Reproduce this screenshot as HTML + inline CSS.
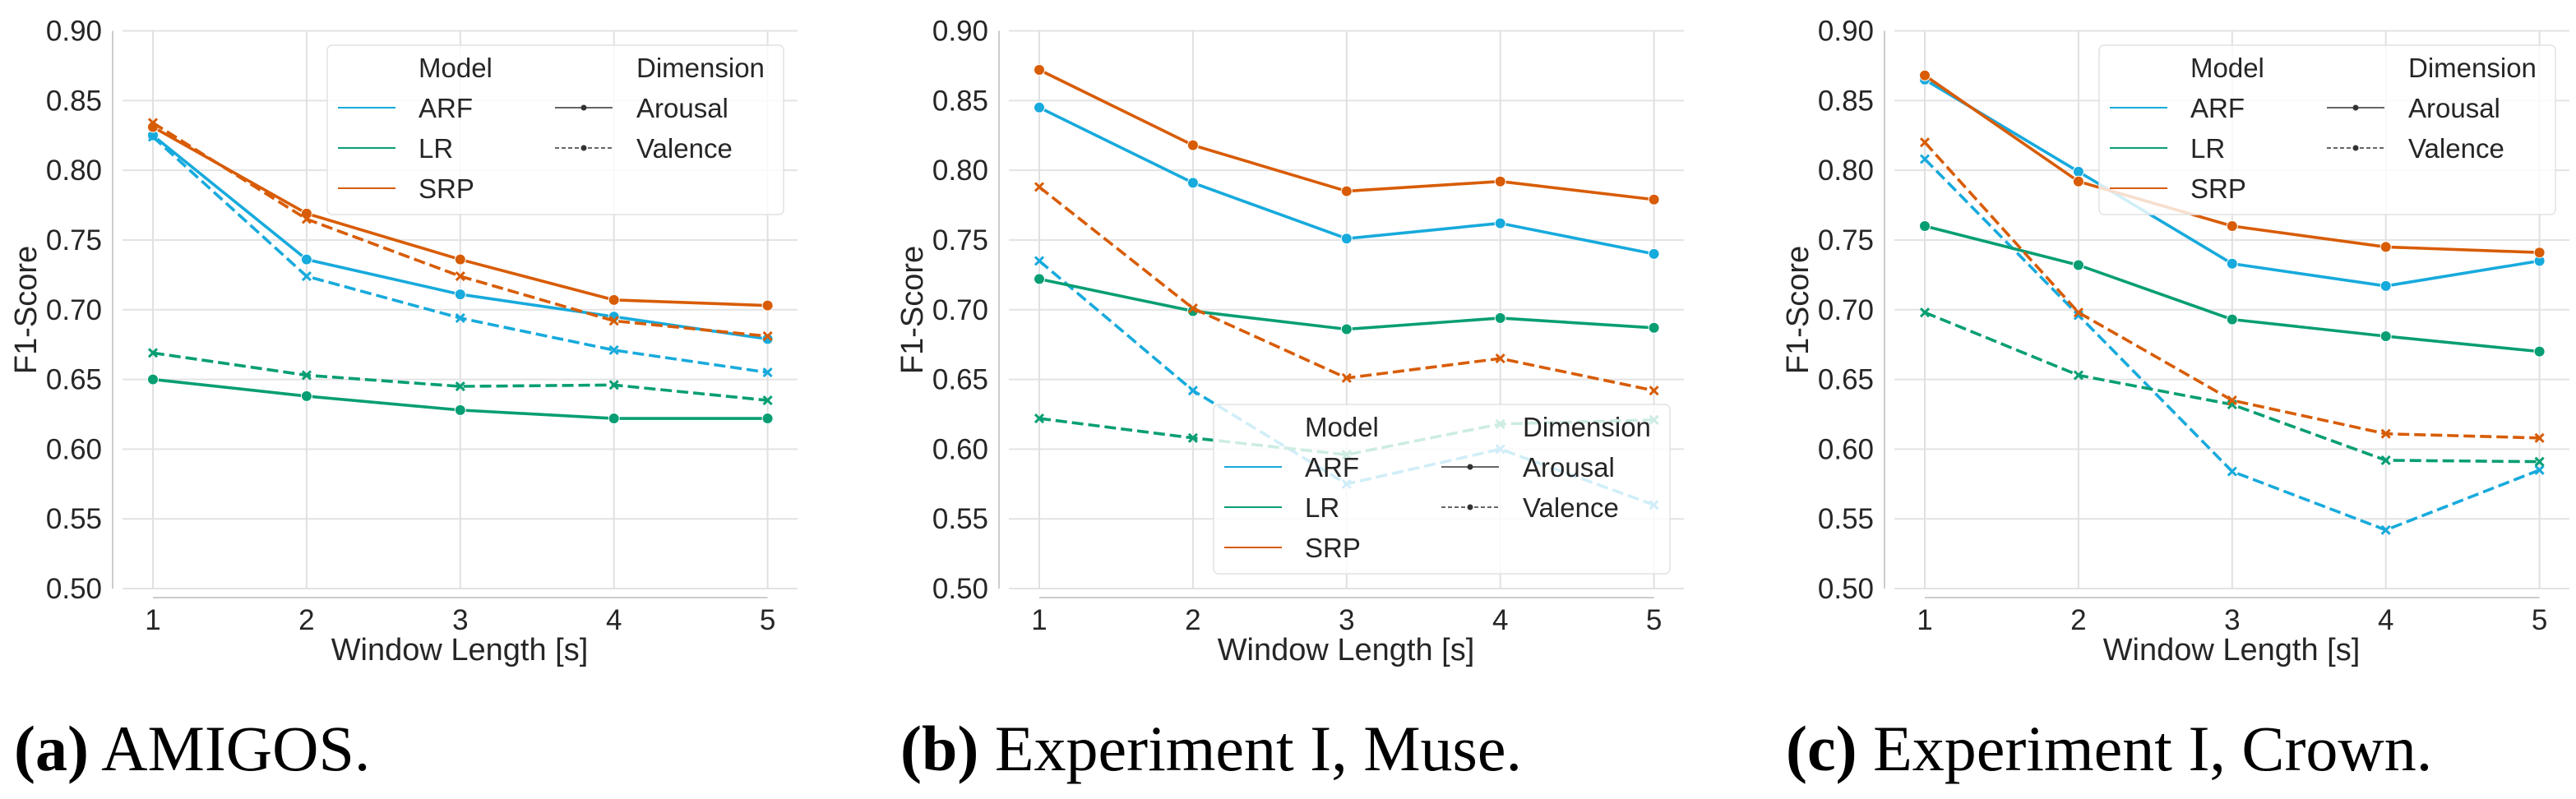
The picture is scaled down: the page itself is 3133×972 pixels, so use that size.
<!DOCTYPE html>
<html><head><meta charset="utf-8"><style>
html,body{margin:0;padding:0;background:#fff;}
svg{display:block;}
</style></head><body>
<svg id="fig" width="3133" height="972" viewBox="0 0 3133 972" xmlns="http://www.w3.org/2000/svg" font-family="Liberation Sans, sans-serif"></svg>
<script>
const xCats = [1, 2, 3, 4, 5];
const yTicks = [0.50, 0.55, 0.60, 0.65, 0.70, 0.75, 0.80, 0.85, 0.90];
const yTickLabels = ["0.50","0.55","0.60","0.65","0.70","0.75","0.80","0.85","0.90"];
const models = ["ARF", "LR", "SRP"];
const captions = ["AMIGOS.", "Experiment I, Muse.", "Experiment I, Crown."];
const captionTags = ["(a)", "(b)", "(c)"];
// panel a
const aArfArousal = [0.825, 0.736, 0.711, 0.695, 0.679];
const aArfValence = [0.824, 0.724, 0.694, 0.671, 0.655];
const aLrArousal  = [0.650, 0.638, 0.628, 0.622, 0.622];
const aLrValence  = [0.669, 0.653, 0.645, 0.646, 0.635];
const aSrpArousal = [0.831, 0.769, 0.736, 0.707, 0.703];
const aSrpValence = [0.834, 0.765, 0.724, 0.692, 0.681];
// panel b
const bArfArousal = [0.845, 0.791, 0.751, 0.762, 0.740];
const bArfValence = [0.735, 0.642, 0.575, 0.600, 0.560];
const bLrArousal  = [0.722, 0.699, 0.686, 0.694, 0.687];
const bLrValence  = [0.622, 0.608, 0.596, 0.618, 0.621];
const bSrpArousal = [0.872, 0.818, 0.785, 0.792, 0.779];
const bSrpValence = [0.788, 0.701, 0.651, 0.665, 0.642];
// panel c
const cArfArousal = [0.865, 0.799, 0.733, 0.717, 0.735];
const cArfValence = [0.808, 0.696, 0.584, 0.542, 0.585];
const cLrArousal  = [0.760, 0.732, 0.693, 0.681, 0.670];
const cLrValence  = [0.698, 0.653, 0.632, 0.592, 0.591];
const cSrpArousal = [0.868, 0.792, 0.760, 0.745, 0.741];
const cSrpValence = [0.820, 0.698, 0.635, 0.611, 0.608];

const colors = {ARF:"#17aadc", LR:"#079e73", SRP:"#d85c05"};
const panels = [
  {tick1:186, legendY:55, series:[["ARF",aArfArousal,aArfValence],["LR",aLrArousal,aLrValence],["SRP",aSrpArousal,aSrpValence]]},
  {tick1:1264, legendY:492, series:[["ARF",bArfArousal,bArfValence],["LR",bLrArousal,bLrValence],["SRP",bSrpArousal,bSrpValence]]},
  {tick1:2341, legendY:55, series:[["ARF",cArfArousal,cArfValence],["LR",cLrArousal,cLrValence],["SRP",cSrpArousal,cSrpValence]]}
];
const NS = "http://www.w3.org/2000/svg";
const svg = document.getElementById('fig');
function mk(tag, attrs, parent, text){
  const e = document.createElementNS(NS, tag);
  for (const k in attrs) e.setAttribute(k, attrs[k]);
  if (text !== undefined) e.textContent = text;
  (parent || svg).appendChild(e);
  return e;
}
const yTop = 37.5, yBot = 716, step = 186.9;
function yScale(v){ return yBot - (v - 0.5) / 0.4 * (yBot - yTop); }

panels.forEach((p, pi) => {
  const xScale = c => p.tick1 + (c - 1) * step;
  const g = mk('g', {});
  
  
  yTicks.forEach((t, i) => {
    const gl = mk('line', {x1:p.tick1-37, x2:p.tick1+784, y1:yScale(t), y2:yScale(t), stroke:"#e3e3e3", "stroke-width":2}, g);
    
    
    const tl = mk('text', {x:p.tick1-62, y:yScale(t)+12, "text-anchor":"end", "font-size":35, fill:"#262626"}, g, yTickLabels[i]);
    
    
  });
  xCats.forEach(c => {
    const gl = mk('line', {x1:xScale(c), x2:xScale(c), y1:yTop, y2:yBot, stroke:"#e0e0e0", "stroke-width":2}, g);
    
    
    const tl = mk('text', {x:xScale(c), y:766, "text-anchor":"middle", "font-size":35, fill:"#262626"}, g, String(c));
    
    
  });
  const sp1 = mk('line', {x1:p.tick1-49, x2:p.tick1-49, y1:yTop, y2:yBot, stroke:"#cccccc", "stroke-width":2}, g);
  
  
  const sp2 = mk('line', {x1:xScale(1), x2:xScale(5), y1:727, y2:727, stroke:"#cccccc", "stroke-width":2}, g);
  
  
  const xt = mk('text', {x:p.tick1+373, y:803, "text-anchor":"middle", "font-size":38, fill:"#262626"}, g, "Window Length [s]");
  
  
  const yx = p.tick1 - 142, yy = 377;
  const yt = mk('text', {x:yx, y:yy, "text-anchor":"middle", "font-size":38, fill:"#262626", transform:`rotate(-90 ${yx} ${yy})`}, g, "F1-Score");
  
  
  p.series.forEach(([m, ar, va]) => {
    [[ar, false], [va, true]].forEach(([vals, dashed]) => {
      const pts = vals.map((v, i) => xScale(xCats[i]) + "," + yScale(v)).join(" ");
      const ln = mk('polyline', {points:pts, fill:"none", stroke:colors[m], "stroke-width":3.6, "stroke-dasharray":dashed ? "14 6" : "none", "stroke-linejoin":"round"}, g);
      
      
      vals.forEach((v, i) => {
        const cx = xScale(xCats[i]), cy = yScale(v);
        let mkEl;
        if (dashed) {
          mkEl = mk('path', {d:`M${cx-5},${cy-5}L${cx+5},${cy+5}M${cx-5},${cy+5}L${cx+5},${cy-5}`, stroke:colors[m], "stroke-width":3}, g);
        } else {
          mkEl = mk('circle', {cx:cx, cy:cy, r:6.5, fill:colors[m], stroke:"#fff", "stroke-width":1}, g);
        }
        
        
      });
    });
  });
  const lx = p.tick1 + 212, ly = p.legendY;
  const lg = mk('g', {}, g);
  
  
  mk('rect', {x:lx, y:ly, width:555, height:206, rx:6, fill:"#fff", "fill-opacity":0.8, stroke:"#e2e2e2", "stroke-width":1.5}, lg);
  const h1 = mk('text', {x:lx+111, y:ly+39, "font-size":33, fill:"#262626"}, lg, "Model");
  
  
  const h2 = mk('text', {x:lx+376, y:ly+39, "font-size":33, fill:"#262626"}, lg, "Dimension");
  
  
  models.forEach((m, i) => {
    const ry = ly + 76 + i * 49;
    const e = mk('g', {}, lg);
    
    
    mk('line', {x1:lx+13, x2:lx+83, y1:ry, y2:ry, stroke:colors[m], "stroke-width":2}, e);
    mk('text', {x:lx+111, y:ry+12, "font-size":33, fill:"#262626"}, e, m);
  });
  [["Arousal", "none"], ["Valence", "5 3"]].forEach(([d, da], i) => {
    const ry = ly + 76 + i * 49;
    const e = mk('g', {}, lg);
    
    
    mk('line', {x1:lx+277, x2:lx+347, y1:ry, y2:ry, stroke:"#333", "stroke-width":1.6, "stroke-dasharray":da}, e);
    mk('circle', {cx:lx+312, cy:ry, r:3.5, fill:"#333"}, e);
    mk('text', {x:lx+376, y:ry+12, "font-size":33, fill:"#262626"}, e, d);
  });
  const cap = mk('text', {x:p.tick1-169, y:937, "font-family":"Liberation Serif, serif", "font-size":78, fill:"#000"}, g);
  
  
  mk('tspan', {"font-weight":"bold"}, cap, captionTags[pi]);
  mk('tspan', {}, cap, " " + captions[pi]);
});
</script>
</body></html>
